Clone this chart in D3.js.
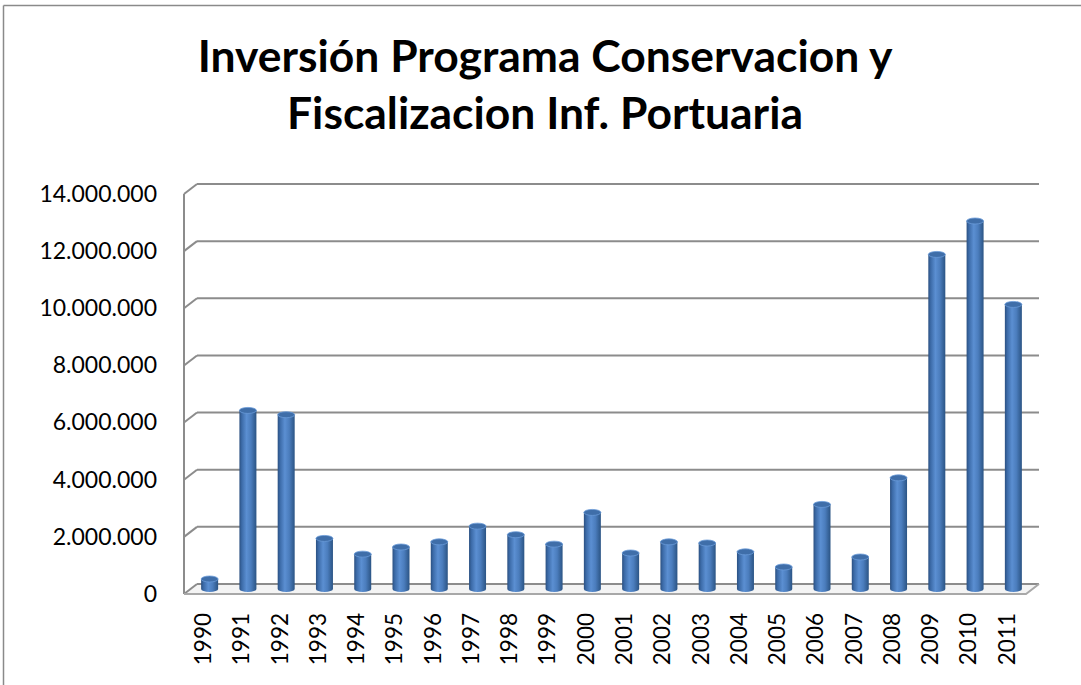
<!DOCTYPE html>
<html>
<head>
<meta charset="utf-8">
<script src="https://d3js.org/d3.v7.min.js"></script>
<style>
  body { margin: 0; background: #fff; }
  svg { display: block; }
</style>
</head>
<body>
<div id="chart"></div>
<script>
// chart data
var years = ["1990","1991","1992","1993","1994","1995","1996","1997","1998","1999","2000",
             "2001","2002","2003","2004","2005","2006","2007","2008","2009","2010","2011"];
var values = [350000, 6250000, 6100000, 1770000, 1220000, 1470000, 1650000, 2200000, 1900000, 1570000, 2680000,
              1260000, 1650000, 1610000, 1300000, 770000, 2960000, 1120000, 3890000, 11710000, 12880000, 9960000];
var yTicks = [0, 2000000, 4000000, 6000000, 8000000, 10000000, 12000000, 14000000];
var titleLines = ["Inversión Programa Conservacion y", "Fiscalizacion Inf. Portuaria"];

var W = 1081, H = 685;
var dx = 13, dy = -10; // depth of the 3d box

var svg = d3.select("#chart").append("svg")
  .attr("width", W).attr("height", H);

// outer frame of the chart area
svg.append("line").attr("x1", 3.5).attr("x2", 3.5).attr("y1", 5.5).attr("y2", H)
  .attr("stroke", "#8a8a8a").attr("stroke-width", 1.5);
svg.append("line").attr("x1", 3.5).attr("x2", W).attr("y1", 5.5).attr("y2", 5.5)
  .attr("stroke", "#8a8a8a").attr("stroke-width", 1.5);

// title, size fitted to the width of the original first line
var title = svg.append("g");
var t1 = title.append("text").text(titleLines[0])
  .attr("font-family", "Lato, 'Open Sans', sans-serif").attr("font-weight", "bold")
  .attr("font-size", 40);
var fs = 40 * 695 / t1.node().getComputedTextLength();
t1.remove();
titleLines.forEach(function(s, i) {
  title.append("text")
    .attr("x", 545).attr("y", 72 + i * 57)
    .attr("text-anchor", "middle")
    .attr("font-family", "Lato, 'Open Sans', sans-serif").attr("font-weight", "bold")
    .attr("font-size", fs).attr("fill", "#000")
    .text(s);
});

// scales (front plane)
var x = d3.scaleBand().domain(years).range([184, 1026]).padding(0);
var y = d3.scaleLinear().domain([0, 14000000]).range([594, 194]);

var grid = "#8c8c8c";

// floor
var floorY = y(0);
svg.append("path")
  .attr("d", "M184," + floorY + "L1026," + floorY + "L" + (1026 + dx) + "," + (floorY + dy) +
             "L" + (184 + dx) + "," + (floorY + dy) + "Z")
  .attr("fill", "#f4f4f4").attr("stroke", "none");

// back wall gridlines and side wall diagonals
yTicks.forEach(function(t) {
  var yy = y(t);
  svg.append("line")
    .attr("x1", 184 + dx).attr("x2", 1026 + dx)
    .attr("y1", yy + dy).attr("y2", yy + dy)
    .attr("stroke", grid).attr("stroke-width", 2);
  svg.append("line")
    .attr("x1", 184).attr("x2", 184 + dx)
    .attr("y1", yy).attr("y2", yy + dy)
    .attr("stroke", grid).attr("stroke-width", 2);
});

// left wall edge
svg.append("line").attr("x1", 184).attr("x2", 184)
  .attr("y1", y(14000000)).attr("y2", y(0))
  .attr("stroke", grid).attr("stroke-width", 2);

// floor front and right edges
svg.append("path")
  .attr("d", "M184," + floorY + "L1026," + floorY + "L" + (1026 + dx) + "," + (floorY + dy))
  .attr("fill", "none").attr("stroke", "#a8a8a8").attr("stroke-width", 2);

// cylinder gradient
var defs = svg.append("defs");
var grad = defs.append("linearGradient").attr("id", "cyl")
  .attr("x1", "0%").attr("x2", "100%").attr("y1", "0%").attr("y2", "0%");
[["0%", "#2b5081"], ["14%", "#3c6ba8"], ["42%", "#5b8fd2"], ["68%", "#4b7dbd"], ["100%", "#2b5484"]]
  .forEach(function(s) { grad.append("stop").attr("offset", s[0]).attr("stop-color", s[1]); });

// bars sit half way into the depth
var bw = 17, ry = 3;
var bx = dx / 2, by = dy / 2;
var bars = svg.append("g");
years.forEach(function(yr, i) {
  var cx = x(yr) + x.bandwidth() / 2 + bx;
  var base = y(0) + by;
  var top = y(values[i]) + by;
  var x0 = cx - bw / 2, x1 = cx + bw / 2;
  bars.append("path")
    .attr("d", "M" + x0 + "," + top + "L" + x0 + "," + base +
               "A" + (bw / 2) + "," + ry + " 0 0 0 " + x1 + "," + base +
               "L" + x1 + "," + top + "Z")
    .attr("fill", "url(#cyl)");
  bars.append("ellipse")
    .attr("cx", cx).attr("cy", top).attr("rx", bw / 2).attr("ry", ry)
    .attr("fill", "#3f6ea9").attr("stroke", "#6a9bd8").attr("stroke-width", 0.8);
});

// y axis labels
var fmt = function(v) { return d3.format(",")(v).replace(/,/g, "."); };
var yAxis = svg.append("g").attr("transform", "translate(184,0)")
  .call(d3.axisLeft(y).tickValues(yTicks).tickSize(0).tickPadding(27).tickFormat(fmt));
yAxis.select(".domain").remove();
yAxis.selectAll("text")
  .attr("font-family", "Lato, 'Open Sans', sans-serif").attr("font-size", 23).attr("fill", "#000");

// x axis labels
var xAxis = svg.append("g").attr("transform", "translate(0," + y(0) + ")")
  .call(d3.axisBottom(x).tickSize(0));
xAxis.select(".domain").remove();
xAxis.selectAll("text")
  .attr("transform", "rotate(-90)")
  .attr("x", -19).attr("y", 0).attr("dy", "0.35em")
  .style("text-anchor", "end")
  .attr("font-family", "Lato, 'Open Sans', sans-serif").attr("font-size", 22.5).attr("fill", "#000");
</script>
</body>
</html>
